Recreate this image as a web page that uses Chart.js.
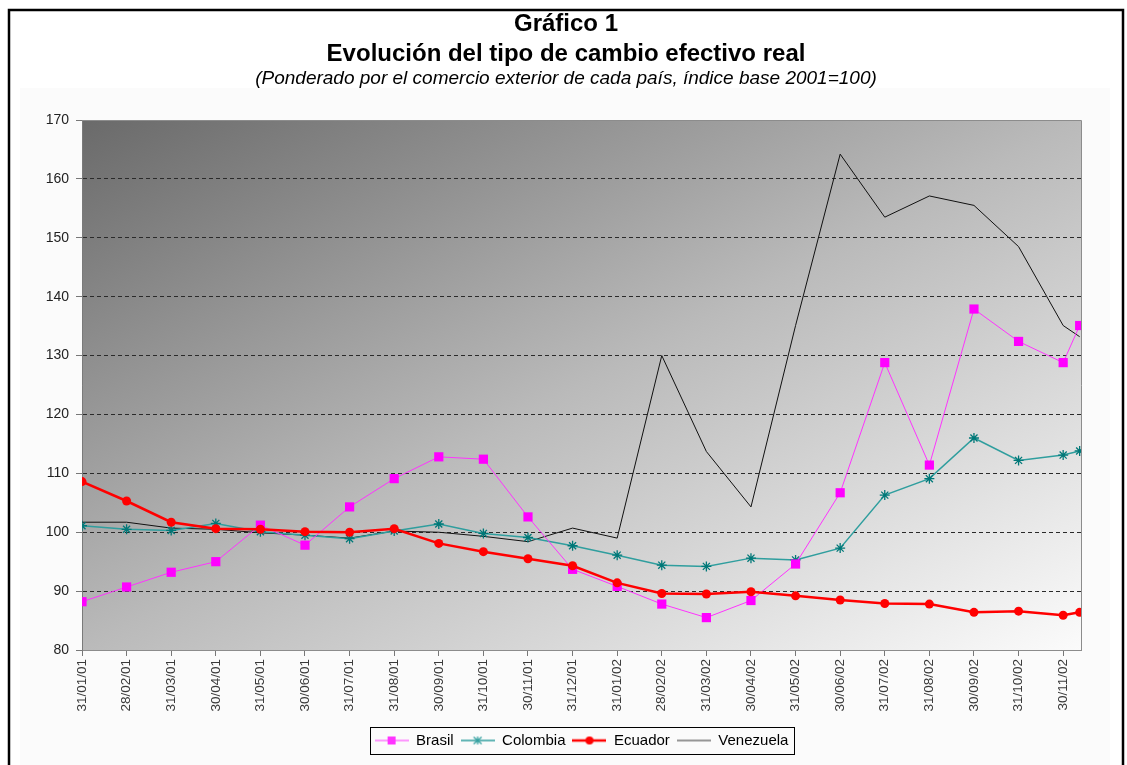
<!DOCTYPE html>
<html>
<head>
<meta charset="utf-8">
<script src="https://cdn.jsdelivr.net/npm/chart.js@4"></script>
<style>
  body { margin: 0; background: #fff; }
</style>
</head>
<body>
<canvas id="myChart" width="1127" height="765"></canvas>
<script>
// fechas del eje (fin de mes); la ultima observacion cae a mediados de dic/02 sin etiqueta
const fechas = ['31/01/01', '28/02/01', '31/03/01', '30/04/01', '31/05/01', '30/06/01',
    '31/07/01', '31/08/01', '30/09/01', '31/10/01', '30/11/01', '31/12/01',
    '31/01/02', '28/02/02', '31/03/02', '30/04/02', '31/05/02', '30/06/02',
    '31/07/02', '31/08/02', '30/09/02', '31/10/02', '30/11/02'];
const posMes = [0, 1, 2, 3, 4, 5, 6, 7, 8, 9, 10, 11, 12, 13, 14, 15, 16, 17, 18, 19, 20, 21, 22, 22.37];

const brasil = [88.2, 90.7, 93.2, 95.0, 101.2, 97.8, 104.3, 109.1, 112.8, 112.4, 102.6, 93.7,
    90.8, 87.8, 85.5, 88.4, 94.6, 106.7, 128.8, 111.4, 137.9, 132.4, 128.8, 135.1];
const colombia = [101.1, 100.5, 100.3, 101.5, 100.1, 99.5, 98.9, 100.2, 101.4, 99.8, 99.1, 97.7,
    96.1, 94.4, 94.2, 95.6, 95.3, 97.3, 106.3, 109.1, 116.0, 112.2, 113.1, 113.8];
const ecuador = [108.6, 105.3, 101.7, 100.6, 100.5, 100.1, 100.0, 100.6, 98.1, 96.7, 95.5, 94.3,
    91.4, 89.6, 89.5, 89.9, 89.2, 88.5, 87.9, 87.8, 86.4, 86.6, 85.9, 86.4];
const venezuela = [101.7, 101.7, 100.7, 100.5, 99.9, 99.5, 99.0, 100.2, 100.0, 99.3, 98.4, 100.7,
    99.0, 130.0, 113.7, 104.3, 135.1, 164.2, 153.5, 157.1, 155.5, 148.5, 135.1, 133.2];

const yTicks = [80, 90, 100, 110, 120, 130, 140, 150, 160, 170];

const FONT = "'Liberation Sans', Arial, sans-serif";

function toXY(values) {
    return values.map((v, i) => ({x: posMes[i], y: v}));
}

// little canvas with line + marker, used as legend symbol
function legendIcon(color, width, marker) {
    const c = document.createElement('canvas');
    c.width = 34;
    c.height = 12;
    const ctx = c.getContext('2d');
    ctx.strokeStyle = color;
    ctx.fillStyle = color;
    ctx.lineWidth = width;
    ctx.beginPath();
    ctx.moveTo(0, 6);
    ctx.lineTo(34, 6);
    ctx.stroke();
    if (marker == 'rect') {
        ctx.fillRect(13, 2, 8, 8);
    } else if (marker == 'circle') {
        ctx.beginPath();
        ctx.arc(17, 6, 4, 0, Math.PI * 2);
        ctx.fill();
    } else if (marker == 'star') {
        ctx.lineWidth = 1.2;
        ctx.beginPath();
        ctx.moveTo(17, 2); ctx.lineTo(17, 10);
        ctx.moveTo(13, 2.5); ctx.lineTo(21, 9.5);
        ctx.moveTo(21, 2.5); ctx.lineTo(13, 9.5);
        ctx.stroke();
    }
    return c;
}

const data = {
    datasets: [{
        label: 'Brasil',
        data: toXY(brasil),
        borderColor: '#ff33ff',
        backgroundColor: '#ff00ff',
        borderWidth: 1,
        pointStyle: 'rect',
        pointRadius: 6.5,
        pointBorderWidth: 0,
        order: 2,
        icon: legendIcon('#ff33ff', 1, 'rect')
    }, {
        label: 'Colombia',
        data: toXY(colombia),
        borderColor: '#2f9e9e',
        backgroundColor: '#007878',
        pointBorderColor: '#007878',
        borderWidth: 1.5,
        pointStyle: 'star',
        pointRadius: 5,
        pointBorderWidth: 1.3,
        order: 3,
        icon: legendIcon('#2f9e9e', 1.5, 'star')
    }, {
        label: 'Ecuador',
        data: toXY(ecuador),
        borderColor: '#ff0000',
        backgroundColor: '#ff0000',
        borderWidth: 2.5,
        pointStyle: 'circle',
        pointRadius: 4.5,
        pointBorderWidth: 0,
        order: 1,
        icon: legendIcon('#ff0000', 2.5, 'circle')
    }, {
        label: 'Venezuela',
        data: toXY(venezuela),
        borderColor: '#111111',
        backgroundColor: '#111111',
        borderWidth: 1,
        pointRadius: 0,
        order: 4,
        icon: legendIcon('#333333', 1, null)
    }]
};

// background, frame, plot gradient, legend box
const decoPlugin = {
    id: 'deco',
    beforeDraw(chart) {
        const ctx = chart.ctx;
        const a = chart.chartArea;
        ctx.save();
        ctx.fillStyle = '#ffffff';
        ctx.fillRect(0, 0, chart.width, chart.height);
        ctx.fillStyle = '#fbfbfb';
        ctx.fillRect(20, 88, 1090, 690);
        ctx.strokeStyle = '#000';
        ctx.lineWidth = 2.5;
        ctx.strokeRect(9, 10, 1114, 800);
        // diagonal gradient: isolines run along the other diagonal (like Excel)
        const w = a.right - a.left, h = a.bottom - a.top;
        const cx = a.left + w / 2, cy = a.top + h / 2;
        const k = w * h / (w * w + h * h);
        const g = ctx.createLinearGradient(cx - h * k, cy - w * k, cx + h * k, cy + w * k);
        g.addColorStop(0, '#6a6a6a');
        g.addColorStop(0.5, '#bababa');
        g.addColorStop(1, '#fbfbfb');
        ctx.fillStyle = g;
        ctx.fillRect(a.left, a.top, w, h);
        ctx.restore();
    },
    afterDraw(chart) {
        const ctx = chart.ctx;
        const a = chart.chartArea;
        ctx.save();
        ctx.strokeStyle = '#8c8c8c';
        ctx.lineWidth = 1;
        ctx.beginPath();
        ctx.moveTo(a.left, a.top + 0.5);
        ctx.lineTo(a.right + 0.5, a.top + 0.5);
        ctx.lineTo(a.right + 0.5, a.bottom);
        ctx.stroke();
        const boxes = chart.legend.legendHitBoxes;
        if (boxes && boxes.length) {
            const l = Math.min(...boxes.map(b => b.left)) - 5;
            const r = Math.max(...boxes.map(b => b.left + b.width)) + 5;
            const cy = boxes[0].top + boxes[0].height / 2;
            ctx.strokeStyle = '#000';
            ctx.lineWidth = 1;
            ctx.strokeRect(Math.round(l) + 0.5, Math.round(cy - 13.5) + 0.5, Math.round(r - l), 27);
        }
        ctx.restore();
    }
};

const config = {
    type: 'line',
    data: data,
    plugins: [decoPlugin],
    options: {
        responsive: false,
        devicePixelRatio: 1,
        animation: false,
        layout: {padding: {left: 37, right: 32, top: 4, bottom: 7}},
        plugins: {
            title: {
                display: true,
                text: ['Gráfico 1', 'Evolución del tipo de cambio efectivo real'],
                color: '#000',
                font: {family: FONT, size: 24, weight: 'bold', lineHeight: 1.25},
                padding: {top: 5, bottom: 0}
            },
            subtitle: {
                display: true,
                text: '(Ponderado por el comercio exterior de cada país, índice base 2001=100)',
                color: '#000',
                font: {family: FONT, size: 19, style: 'italic', lineHeight: 1.0},
                padding: {top: 0, bottom: 32}
            },
            legend: {
                position: 'bottom',
                fullSize: false,
                labels: {
                    usePointStyle: true,
                    pointStyleWidth: 34,
                    padding: 7,
                    color: '#222',
                    font: {family: FONT, size: 15},
                    generateLabels: (chart) => chart.data.datasets.map((ds, i) => ({
                        text: ds.label,
                        pointStyle: ds.icon,
                        fillStyle: ds.borderColor,
                        strokeStyle: ds.borderColor,
                        lineWidth: 0,
                        hidden: false,
                        datasetIndex: i
                    }))
                }
            },
            tooltip: {enabled: false}
        },
        scales: {
            x: {
                type: 'linear',
                min: 0,
                max: 22.4,
                afterBuildTicks: (scale) => {
                    scale.ticks = fechas.map((f, i) => ({value: i}));
                },
                afterFit: (scale) => { scale.height = 76; },
                ticks: {
                    autoSkip: false,
                    maxRotation: 90,
                    minRotation: 90,
                    padding: 3,
                    color: '#3a3a3a',
                    font: {family: FONT, size: 13.5},
                    callback: (v) => fechas[v] ?? ''
                },
                grid: {drawOnChartArea: false, drawTicks: true, tickLength: 6, tickColor: '#777'},
                border: {color: '#8c8c8c', width: 1}
            },
            y: {
                min: 80,
                max: 170,
                afterBuildTicks: (scale) => {
                    scale.ticks = yTicks.map(v => ({value: v}));
                },
                afterFit: (scale) => { scale.width = 45; },
                ticks: {
                    padding: 7,
                    color: '#222',
                    font: {family: FONT, size: 14}
                },
                grid: {
                    color: (c) => (c.tick && (c.tick.value == 80 || c.tick.value == 170)) ? 'rgba(0,0,0,0)' : '#2a2a2a',
                    lineWidth: 1,
                    tickLength: 6,
                    tickColor: '#777',
                    tickBorderDash: []
                },
                border: {color: '#7a7a7a', width: 1, dash: [4, 3]}
            },
            // empty right-hand axis, only reserves space so the titles stay centred like the original
            yDer: {
                position: 'right',
                display: true,
                afterFit: (scale) => { scale.width = 14; },
                ticks: {display: false},
                grid: {display: false},
                border: {display: false}
            }
        }
    }
};

const myChart = new Chart(document.getElementById('myChart'), config);
</script>
</body>
</html>
